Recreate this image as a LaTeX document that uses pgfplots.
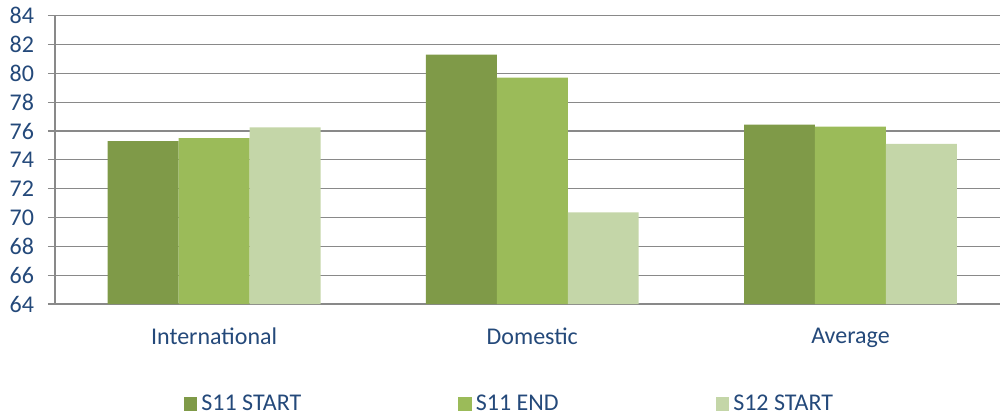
\documentclass[border=0pt]{standalone}
\usepackage{pgfplots}
\pgfplotsset{compat=1.18}
\usepackage{fontspec}
\setmainfont{Carlito}
\definecolor{txt}{HTML}{24497A}
\definecolor{cA}{HTML}{7F9A48}
\definecolor{cB}{HTML}{9BBB59}
\definecolor{cC}{HTML}{C4D6A8}
\definecolor{grd}{HTML}{898989}
\begin{document}
\begin{tikzpicture}
\path[use as bounding box] (0,0) rectangle (500pt,-208pt);
\begin{axis}[
 at={(27.5pt,-7.85pt)}, anchor=north west,
 scale only axis, width=472.5pt, height=144.15pt,
 ymin=64, ymax=84, ytick={64,66,...,84},
 xmin=-0.5, xmax=2.47,
 xtick={0,1,2}, xticklabels={International,Domestic,Average},
 major x tick style={draw=none},
 extra x ticks={-0.5,0.5,1.5}, extra x tick labels={},
 extra x tick style={major tick length=4pt, tick style={draw=grd, line width=0.6pt}, tick align=outside, grid=none},
 ymajorgrids, grid style={grd, line width=0.6pt},
 axis x line*=bottom, axis y line*=left,
 axis line style={grd, line width=0.6pt, -},
 y tick style={grd, line width=0.6pt}, tick align=outside, major tick length=3.5pt,
 ticklabel style={font=\fontsize{12}{14}\selectfont, text=txt},
 /pgf/number format/assume math mode=true,
 yticklabel style={xshift=-3.5pt},
 xticklabel style={yshift=-5pt},
 legend style={at={(0.482,-0.347)}, anchor=center, draw=none, fill=none,
   font=\fontsize{12}{14}\selectfont, text=txt, legend columns=3,
   /tikz/every even column/.append style={column sep=76.5pt}},
 legend image code/.code={\fill[#1] (0pt,-3.4pt) rectangle (6.8pt,3.4pt);},
]
\addplot[ybar, bar width=0.223, bar shift=-0.223, fill=cA, draw=none] coordinates {(0,75.3) (1,81.3) (2,76.45)};
\addlegendentry{S11 START}
\addplot[ybar, bar width=0.223, bar shift=0, fill=cB, draw=none] coordinates {(0,75.5) (1,79.7) (2,76.3)};
\addlegendentry{S11 END}
\addplot[ybar, bar width=0.223, bar shift=0.223, fill=cC, draw=none] coordinates {(0,76.25) (1,70.35) (2,75.1)};
\addlegendentry{S12 START}
\end{axis}
\end{tikzpicture}
\end{document}
